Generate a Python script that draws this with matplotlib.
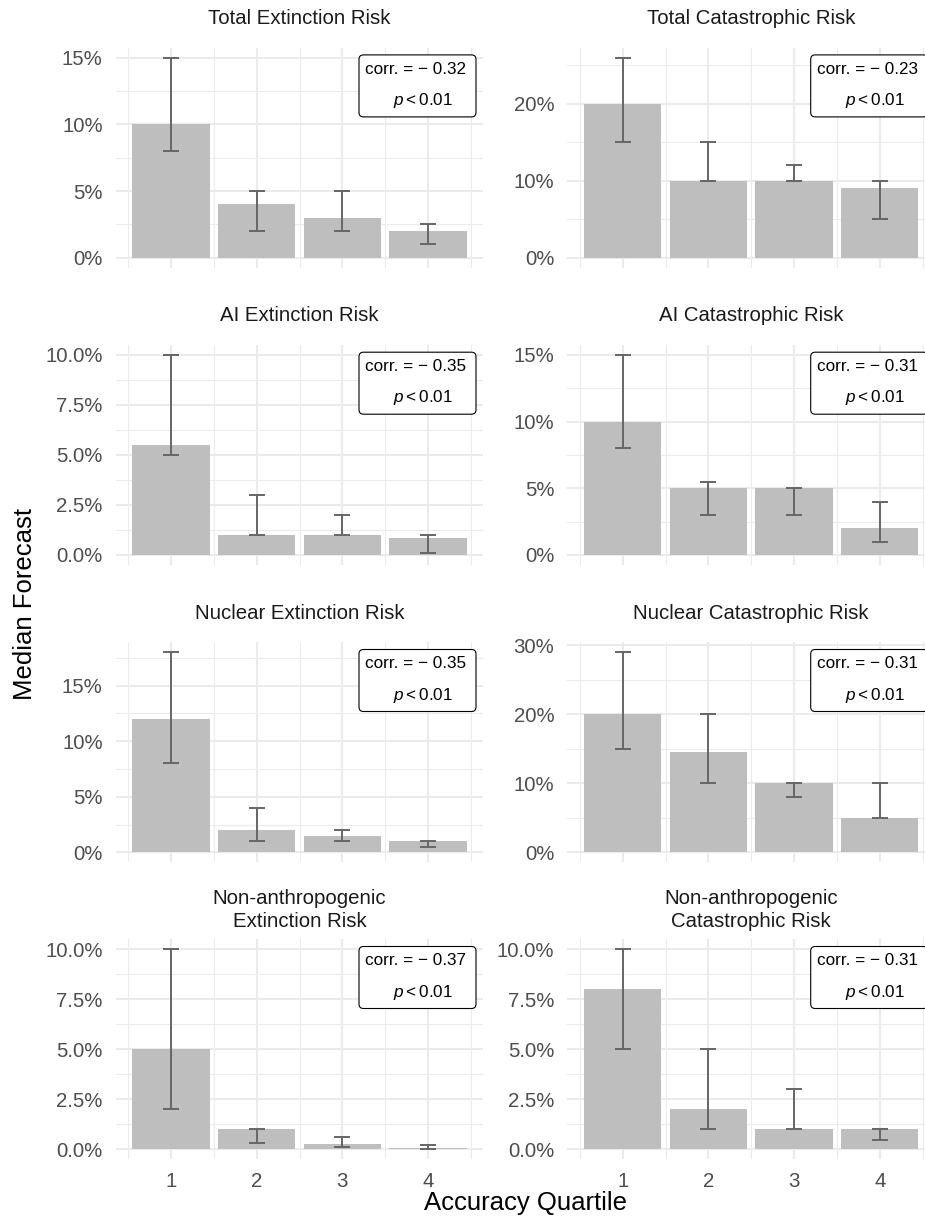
import matplotlib
matplotlib.use("Agg")
import matplotlib.pyplot as plt
from matplotlib.patches import FancyBboxPatch
from matplotlib.transforms import ScaledTranslation
from matplotlib.ticker import MultipleLocator, FuncFormatter

plt.rcParams['font.family'] = ['Liberation Sans', 'DejaVu Sans']
plt.rcParams['mathtext.fontset'] = 'custom'
plt.rcParams['mathtext.rm'] = 'Liberation Sans'
plt.rcParams['mathtext.it'] = 'Liberation Sans:italic'

# Data (percent), panels in row order: left = extinction, right = catastrophic
quartiles = [1, 2, 3, 4]

titles = ['Total Extinction Risk', 'Total Catastrophic Risk',
          'AI Extinction Risk', 'AI Catastrophic Risk',
          'Nuclear Extinction Risk', 'Nuclear Catastrophic Risk',
          'Non-anthropogenic\nExtinction Risk', 'Non-anthropogenic\nCatastrophic Risk']

medians = [[10, 4, 3, 2], [20, 10, 10, 9],
           [5.5, 1, 1, 0.85], [10, 5, 5, 2],
           [12, 2, 1.5, 1], [20, 14.5, 10, 5],
           [5, 1, 0.25, 0.08], [8, 2, 1, 1]]

lows = [[8, 2, 2, 1], [15, 10, 10, 5],
        [5, 1, 1, 0.1], [8, 3, 3, 1],
        [8, 1, 1, 0.5], [15, 10, 8, 5],
        [2, 0.3, 0.1, 0.03], [5, 1, 1, 0.45]]

highs = [[15, 5, 5, 2.5], [26, 15, 12, 10],
         [10, 3, 2, 1], [15, 5.5, 5, 4],
         [18, 4, 2, 1], [29, 20, 10, 10],
         [10, 1, 0.6, 0.2], [10, 5, 3, 1]]

corrs = [-0.32, -0.23, -0.35, -0.31, -0.35, -0.31, -0.37, -0.31]
y_steps = [5, 10, 2.5, 5, 5, 10, 2.5, 2.5]

# Layout (pixels)
W, H = 925, 1222
col_left = [115.7, 567.4]
row_bottom = [267.7, 565.0, 862.3, 1159.3]
panel_w, panel_h = 367.6, 220.0

fig = plt.figure(figsize=(W / 100, H / 100), dpi=100)

def pct_fmt(step):
    d = 1 if step % 1 else 0
    return FuncFormatter(lambda v, pos: f'{v:.{d}f}%')

for i in range(len(titles)):
    r, c = divmod(i, 2)
    ax = fig.add_axes([col_left[c] / W, 1 - row_bottom[r] / H, panel_w / W, panel_h / H])

    ax.bar(quartiles, medians[i], width=0.9, color='#BEBEBE', zorder=2)
    yerr = [[m - lo for m, lo in zip(medians[i], lows[i])],
            [hi - m for m, hi in zip(medians[i], highs[i])]]
    ax.errorbar(quartiles, medians[i], yerr=yerr, fmt='none', ecolor='#666666',
                elinewidth=1.4, capsize=6, capthick=1.4, zorder=3)

    # ggplot-like 5% expansion
    x_lo, x_hi = quartiles[0] - 0.45, quartiles[-1] + 0.45
    ax.set_xlim(x_lo - 0.05 * (x_hi - x_lo), x_hi + 0.05 * (x_hi - x_lo))
    top = max(highs[i])
    ax.set_ylim(-0.05 * top, 1.05 * top)

    ax.set_xticks(quartiles)
    ax.set_xticks([q - 0.5 for q in quartiles] + [quartiles[-1] + 0.5], minor=True)
    ax.yaxis.set_major_locator(MultipleLocator(y_steps[i]))
    ax.yaxis.set_minor_locator(MultipleLocator(y_steps[i] / 2))
    ax.yaxis.set_major_formatter(pct_fmt(y_steps[i]))
    ax.grid(which='major', color='#EBEBEB', lw=1.5)
    ax.grid(which='minor', color='#EBEBEB', lw=0.75)
    ax.set_axisbelow(True)
    for s in ax.spines.values():
        s.set_visible(False)
    ax.tick_params(which='both', length=0, labelsize=14.7, labelcolor='#4D4D4D')
    ax.tick_params(axis='y', pad=9.4)
    ax.tick_params(axis='x', pad=8.8)
    if r < 3:
        ax.tick_params(labelbottom=False)

    # panel title, baseline offsets in px above the panel
    top_c = fig.dpi_scale_trans + ScaledTranslation(0.5, 1, ax.transAxes)
    lines = titles[i].split('\n')
    base = 23.5 if len(lines) == 1 else 12.6
    for k, line in enumerate(reversed(lines)):
        ax.text(0, (base + k * 22.7) / 100, line, transform=top_c, ha='center',
                va='baseline', fontsize=14.7, color='#1A1A1A')

    # correlation label box at top right
    tr = fig.dpi_scale_trans + ScaledTranslation(1, 1, ax.transAxes)
    box = FancyBboxPatch((-1.243, -0.692), 1.17, 0.62,
                         boxstyle='round,pad=0,rounding_size=0.045', transform=tr,
                         fc='white', ec='black', lw=0.8, zorder=5, clip_on=False)
    ax.add_artist(box)
    ax.text(-0.674, -0.262, f'corr. = \u2212 {abs(corrs[i]):.2f}', transform=tr,
            ha='center', va='baseline', fontsize=12.3, color='black', zorder=6)
    ax.text(-0.599, -0.574, r'$p < 0.01$', transform=tr,
            ha='center', va='baseline', fontsize=12.3, color='black', zorder=6)

fig.text(25.3 / W, 1 - 603.5 / H, 'Median Forecast', rotation=90,
         ha='center', va='center', fontsize=18.5, color='black')
fig.text(525 / W, 1 - 1210 / H, 'Accuracy Quartile',
         ha='center', va='baseline', fontsize=18.5, color='black')

fig.savefig('out.png', dpi=100, facecolor='white')
